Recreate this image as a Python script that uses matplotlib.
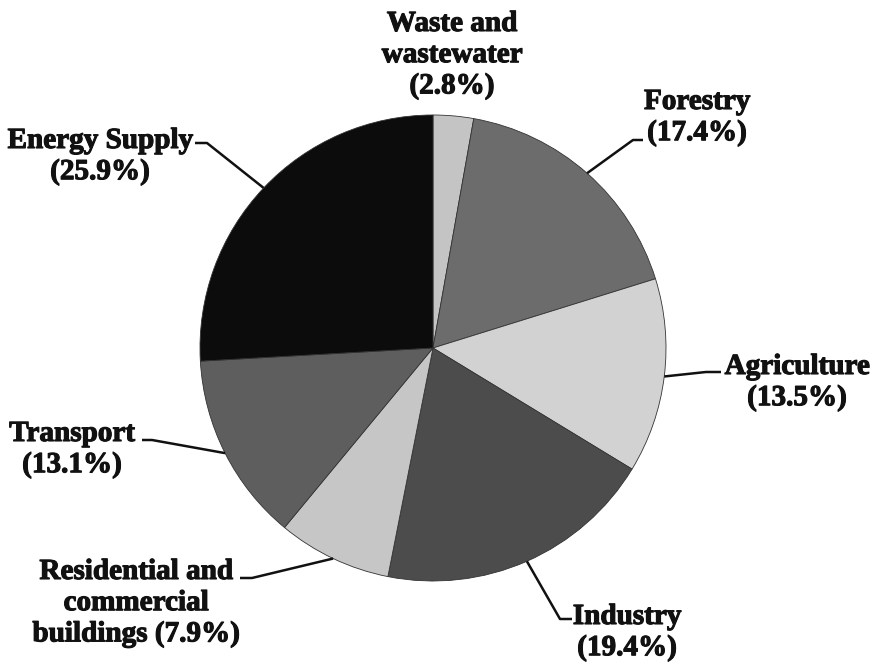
import numpy as np
import matplotlib
matplotlib.use("Agg")
import matplotlib.pyplot as plt
import matplotlib.patheffects as pe

# sectors clockwise from 12 o'clock
sectors = ["Waste and\nwastewater", "Forestry", "Agriculture", "Industry",
           "Residential and\ncommercial\nbuildings", "Transport", "Energy Supply"]
shares = [2.8, 17.4, 13.5, 19.4, 7.9, 13.1, 25.9]
colors = ["#c4c4c4", "#6c6c6c", "#d2d2d2", "#4c4c4c", "#c6c6c6", "#5e5e5e", "#0c0c0c"]

W, H = 879, 666
fig = plt.figure(figsize=(W / 100, H / 100), dpi=100)
ax = fig.add_axes([0, 0, 1, 1])

cx, cy, r = 433, H - 348, 233
wedges, _ = ax.pie(shares, colors=colors, startangle=90, counterclock=False,
                   center=(cx, cy), radius=r, frame=True,
                   wedgeprops=dict(linewidth=0.6, edgecolor="#333333"))
ax.set_xlim(0, W)
ax.set_ylim(0, H)
ax.set_aspect("equal")
ax.axis("off")

font = dict(family="Liberation Serif", weight="bold", fontsize=21, color="#111111")
thick = [pe.withStroke(linewidth=0.8, foreground="#111111")]

# label text: top-centre position (pixels from top-left), then leader elbow and end
layout = [
    ((452, 10), None),
    ((697, 88), [(633, 140), (643, 140)]),
    ((797, 353), [(706, 372), (721, 372)]),
    ((627, 603), [(560, 619), (572, 619)]),
    ((136, 558), [(252, 578), (240, 578)]),
    ((72, 420), [(152, 440), (142, 440)]),
    ((100, 127), [(207, 143), (195, 143)]),
]

for w, name, share, ((tx, ty), leader) in zip(wedges, sectors, shares, layout):
    if name.startswith("Residential"):
        label = name + " (%.1f%%)" % share
    else:
        label = name + "\n(%.1f%%)" % share
    ax.text(tx, H - ty, label, ha="center", va="top", multialignment="center",
            linespacing=1.2, path_effects=thick, **font)
    if leader is None:
        continue
    mid = np.deg2rad((w.theta1 + w.theta2) / 2)
    px, py = cx + r * np.cos(mid), cy + r * np.sin(mid)
    xs = [px] + [p[0] for p in leader]
    ys = [py] + [H - p[1] for p in leader]
    ax.plot(xs, ys, color="#111111", linewidth=1.8, solid_capstyle="butt")

plt.savefig("out.png", dpi=100, facecolor="white")
